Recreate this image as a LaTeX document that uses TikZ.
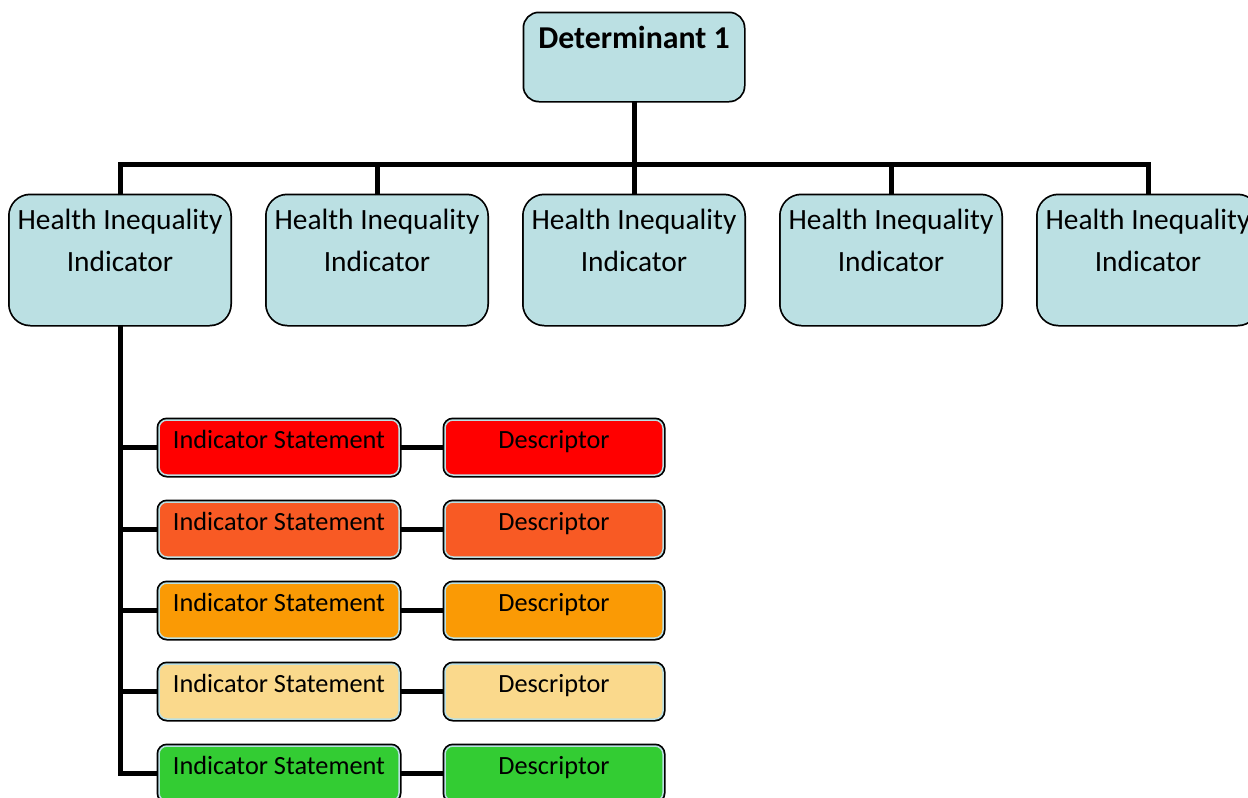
\documentclass[tikz,border=0pt]{standalone}
\usepackage{fontspec}
\setmainfont{Carlito}
\definecolor{hiblue}{HTML}{BBE0E3}
\definecolor{lvred}{HTML}{FF0000}
\definecolor{lvorange}{HTML}{F85A24}
\definecolor{lvamber}{HTML}{FA9A05}
\definecolor{lvsand}{HTML}{FAD98C}
\definecolor{lvgreen}{HTML}{33CC33}
\tikzset{
  every picture/.style={
    x=1pt, y=-1pt
  },
  box/.style={
    preaction={draw=black, line width=5pt},
    draw=hiblue, line width=1.5pt,
    inner sep=0pt, align=center
  },
  conn/.style={
    draw=black, line width=5pt
  }
}
\begin{document}
\begin{tikzpicture}[
    detbox/.style={box, fill=hiblue, rounded corners=14pt,
      minimum width=218pt, text height=34pt, text depth=52pt,
      font=\fontsize{31.8}{38}\selectfont\bfseries},
    hibox/.style={box, fill=hiblue, rounded corners=20pt,
      minimum width=219pt, text height=75.5pt, text depth=52.5pt,
      font=\fontsize{29.4}{42}\selectfont},
    stbox/.style={box, rounded corners=8pt,
      minimum width=240pt, text height=28.5pt, text depth=26.5pt,
      font=\fontsize{26.3}{32}\selectfont},
    descbox/.style={box, rounded corners=8pt,
      minimum width=218pt, text height=28.5pt, text depth=26.5pt,
      font=\fontsize{26.3}{32}\selectfont}
  ]
  \useasboundingbox (0,0) rectangle (1248,798);
  % top level
  \node[detbox] (det) at (634,57) {Determinant 1};
  \node[hibox] (hi1) at (120,260) {Health Inequality\\Indicator};
  \node[hibox] (hi2) at (377,260) {Health Inequality\\Indicator};
  \node[hibox] (hi3) at (634,260) {Health Inequality\\Indicator};
  \node[hibox] (hi4) at (891,260) {Health Inequality\\Indicator};
  \node[hibox] (hi5) at (1148,260) {Health Inequality\\Indicator};
  \coordinate (bus) at (634,164);
  % statements and descriptors
  \node[stbox, fill=lvred] (st1) at (279,447.5) {Indicator Statement};
  \node[stbox, fill=lvorange] (st2) at (279,529.5) {Indicator Statement};
  \node[stbox, fill=lvamber] (st3) at (279,610.5) {Indicator Statement};
  \node[stbox, fill=lvsand] (st4) at (279,691.5) {Indicator Statement};
  \node[stbox, fill=lvgreen] (st5) at (279,773.5) {Indicator Statement};
  \node[descbox, fill=lvred] (desc1) at (554,447.5) {Descriptor};
  \node[descbox, fill=lvorange] (desc2) at (554,529.5) {Descriptor};
  \node[descbox, fill=lvamber] (desc3) at (554,610.5) {Descriptor};
  \node[descbox, fill=lvsand] (desc4) at (554,691.5) {Descriptor};
  \node[descbox, fill=lvgreen] (desc5) at (554,773.5) {Descriptor};
  % connectors
  \draw[conn] (det.south) -- (hi3.north);
  \draw[conn] (hi1.north) -- (hi1.north |- bus) -- (hi5.north |- bus) -- (hi5.north);
  \draw[conn] (hi2.north) -- (hi2.north |- bus);
  \draw[conn] (hi4.north) -- (hi4.north |- bus);
  \draw[conn] (hi1.south) |- (st5.west);
  \draw[conn] (hi1.south |- st1.west) -- (st1.west);
  \draw[conn] (hi1.south |- st2.west) -- (st2.west);
  \draw[conn] (hi1.south |- st3.west) -- (st3.west);
  \draw[conn] (hi1.south |- st4.west) -- (st4.west);
  \draw[conn] (st1.east) -- (desc1.west);
  \draw[conn] (st2.east) -- (desc2.west);
  \draw[conn] (st3.east) -- (desc3.west);
  \draw[conn] (st4.east) -- (desc4.west);
  \draw[conn] (st5.east) -- (desc5.west);
\end{tikzpicture}
\end{document}
